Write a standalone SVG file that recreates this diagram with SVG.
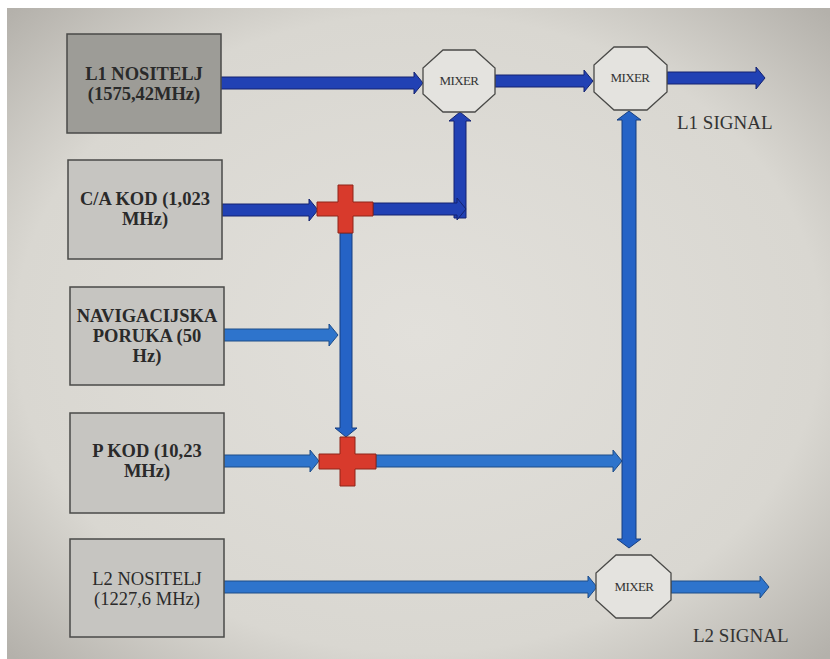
<svg xmlns="http://www.w3.org/2000/svg" width="830" height="659" viewBox="0 0 830 659">
<defs>
<radialGradient id="bg" cx="50%" cy="50%" r="70%">
<stop offset="0" stop-color="#e2e0db"/>
<stop offset="0.7" stop-color="#d9d7d1"/>
<stop offset="1" stop-color="#b4b1ab"/>
</radialGradient>
<style>
.box{stroke:#4a4a48;stroke-width:1.5}
.dark{fill:#9d9c97}
.light{fill:#c6c5c1}
.t{font-family:'Liberation Serif','DejaVu Serif',serif;font-size:18.5px;fill:#2a2a2a;text-anchor:middle}
.b{font-weight:bold}
.mix{fill:#e4e3df;stroke:#4a4a48;stroke-width:1.3}
.mt{font-family:'Liberation Serif','DejaVu Serif',serif;font-size:13px;fill:#333;text-anchor:middle;letter-spacing:-0.6px}
.sig{font-family:'Liberation Serif','DejaVu Serif',serif;font-size:19px;fill:#333}
.a1{fill:#2141b4;stroke:#142370;stroke-width:1}
.a2{fill:#2563c6;stroke:#173f80;stroke-width:1}
.a3{fill:#2e74cc;stroke:#1d4c88;stroke-width:1}
.cross{fill:#d83a2c;stroke:#8e2418;stroke-width:1}
</style>
</defs>
<rect x="0" y="0" width="830" height="659" fill="#ffffff"/>
<rect x="7" y="8" width="823" height="651" fill="url(#bg)"/>

<g id="connectors">
<polygon class="a1" points="220,77 414,77 414,72 423,83 414,94 414,89 220,89"/>
<polygon class="a1" points="495,75 584,75 584,70 593,81 584,92 584,87 495,87"/>
<polygon class="a1" points="667,72 756,72 756,67 765,78 756,89 756,84 667,84"/>
<polygon class="a1" points="222,204 309,204 309,199 318,210 309,221 309,216 222,216"/>
<polygon class="a1" points="454,218 454,121 449,121 460,112 471,121 466,121 466,218"/>
<polygon class="a1" points="373,203 457,203 457,198 466,209 457,220 457,215 373,215"/>
<polygon class="a2" points="340,233 340,428 335,428 346,437 357,428 352,428 352,233"/>
<polygon class="a3" points="222,329 329,329 329,324 338,335 329,346 329,341 222,341"/>
<polygon class="a3" points="222,455 310,455 310,450 319,461 310,472 310,467 222,467"/>
<polygon class="a3" points="376,455 613,455 613,450 622,461 613,472 613,467 376,467"/>
<polygon class="a2" points="622,120 617,120 629,111 641,120 636,120 636,539 641,539 629,548 617,539 622,539"/>
<polygon class="a3" points="222,581 588,581 588,576 597,587 588,598 588,593 222,593"/>
<polygon class="a3" points="671,581 760,581 760,576 769,587 760,598 760,593 671,593"/>
</g>

<g id="l1-nositelj">
<rect class="box dark" x="67" y="34" width="154" height="99"/>
<text class="t b" x="144" y="80">L1 NOSITELJ</text>
<text class="t b" x="144" y="100">(1575,42MHz)</text>
</g>
<g id="ca-kod">
<rect class="box light" x="68" y="160" width="154" height="99"/>
<text class="t b" x="145" y="205">C/A KOD (1,023</text>
<text class="t b" x="145" y="225">MHz)</text>
</g>
<g id="navigacijska">
<rect class="box light" x="70" y="287" width="154" height="98"/>
<text class="t b" x="147" y="322">NAVIGACIJSKA</text>
<text class="t b" x="147" y="342">PORUKA (50</text>
<text class="t b" x="147" y="362">Hz)</text>
</g>
<g id="p-kod">
<rect class="box light" x="70" y="413" width="154" height="100"/>
<text class="t b" x="147" y="457">P KOD (10,23</text>
<text class="t b" x="147" y="477">MHz)</text>
</g>
<g id="l2-nositelj">
<rect class="box light" x="70" y="539" width="154" height="98"/>
<text class="t" x="147" y="585">L2 NOSITELJ</text>
<text class="t" x="147" y="605">(1227,6 MHz)</text>
</g>

<g id="sum1">
<polygon class="cross" points="338,185 353,185 353,202 373,202 373,216 353,216 353,233 338,233 338,216 317,216 317,202 338,202"/>
</g>
<g id="sum2">
<polygon class="cross" points="340,437 355,437 355,454 376,454 376,469 355,469 355,486 340,486 340,469 319,469 319,454 340,454"/>
</g>

<g id="mixer1">
<polygon class="mix" points="443,50 475,50 495,68 495,94 475,112 443,112 423,94 423,68"/>
<text class="mt" x="459" y="85">MIXER</text>
</g>
<g id="mixer2">
<polygon class="mix" points="614,47 647,47 667,65 667,92 647,110 614,110 594,92 594,65"/>
<text class="mt" x="630" y="82">MIXER</text>
</g>
<g id="mixer3">
<polygon class="mix" points="616,555 651,555 671,573 671,600 651,618 616,618 596,600 596,573"/>
<text class="mt" x="634" y="591">MIXER</text>
</g>

<g id="labels">
<text class="sig" x="677" y="129">L1 SIGNAL</text>
<text class="sig" x="693" y="642">L2 SIGNAL</text>
</g>
</svg>
